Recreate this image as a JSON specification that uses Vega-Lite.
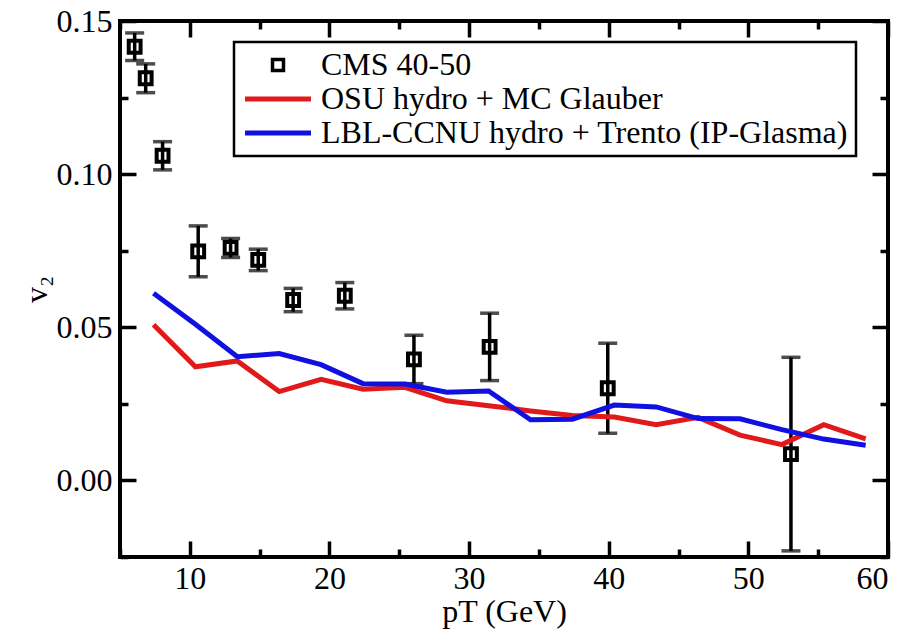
{
  "$schema": "https://vega.github.io/schema/vega-lite/v6.json",
  "width": 768,
  "height": 536,
  "autosize": {"type": "none"},
  "padding": {"left": 120, "top": 21, "right": 31, "bottom": 77},
  "background": "white",
  "config": {
    "view": {"stroke": "black", "strokeWidth": 4},
    "font": "Liberation Serif",
    "axis": {
      "grid": false,
      "domain": false,
      "ticks": true,
      "tickColor": "black",
      "tickWidth": 3.5,
      "labelFont": "Liberation Serif",
      "labelFontSize": 32,
      "labelColor": "black",
      "titleFont": "Liberation Serif",
      "titleFontSize": 32,
      "titleFontWeight": "normal",
      "titleColor": "black"
    }
  },
  "datasets": {
    "models": [
      {"series": "OSU hydro + MC Glauber", "pT": 7.4, "v2": 0.0508},
      {"series": "OSU hydro + MC Glauber", "pT": 10.4, "v2": 0.0371},
      {"series": "OSU hydro + MC Glauber", "pT": 13.4, "v2": 0.0390},
      {"series": "OSU hydro + MC Glauber", "pT": 16.4, "v2": 0.0290},
      {"series": "OSU hydro + MC Glauber", "pT": 19.4, "v2": 0.0330},
      {"series": "OSU hydro + MC Glauber", "pT": 22.4, "v2": 0.0298},
      {"series": "OSU hydro + MC Glauber", "pT": 25.4, "v2": 0.0304},
      {"series": "OSU hydro + MC Glauber", "pT": 28.4, "v2": 0.0260},
      {"series": "OSU hydro + MC Glauber", "pT": 31.4, "v2": 0.0244},
      {"series": "OSU hydro + MC Glauber", "pT": 34.4, "v2": 0.0227},
      {"series": "OSU hydro + MC Glauber", "pT": 37.4, "v2": 0.0212},
      {"series": "OSU hydro + MC Glauber", "pT": 40.4, "v2": 0.0207},
      {"series": "OSU hydro + MC Glauber", "pT": 43.4, "v2": 0.0182},
      {"series": "OSU hydro + MC Glauber", "pT": 46.4, "v2": 0.0206},
      {"series": "OSU hydro + MC Glauber", "pT": 49.4, "v2": 0.0148},
      {"series": "OSU hydro + MC Glauber", "pT": 52.4, "v2": 0.0117},
      {"series": "OSU hydro + MC Glauber", "pT": 55.4, "v2": 0.0182},
      {"series": "OSU hydro + MC Glauber", "pT": 58.4, "v2": 0.0136},
      {"series": "LBL-CCNU hydro + Trento (IP-Glasma)", "pT": 7.4, "v2": 0.0611},
      {"series": "LBL-CCNU hydro + Trento (IP-Glasma)", "pT": 10.4, "v2": 0.0510},
      {"series": "LBL-CCNU hydro + Trento (IP-Glasma)", "pT": 13.4, "v2": 0.0404},
      {"series": "LBL-CCNU hydro + Trento (IP-Glasma)", "pT": 16.4, "v2": 0.0414},
      {"series": "LBL-CCNU hydro + Trento (IP-Glasma)", "pT": 19.4, "v2": 0.0378},
      {"series": "LBL-CCNU hydro + Trento (IP-Glasma)", "pT": 22.4, "v2": 0.0316},
      {"series": "LBL-CCNU hydro + Trento (IP-Glasma)", "pT": 25.4, "v2": 0.0315},
      {"series": "LBL-CCNU hydro + Trento (IP-Glasma)", "pT": 28.4, "v2": 0.0288},
      {"series": "LBL-CCNU hydro + Trento (IP-Glasma)", "pT": 31.4, "v2": 0.0292},
      {"series": "LBL-CCNU hydro + Trento (IP-Glasma)", "pT": 34.4, "v2": 0.0198},
      {"series": "LBL-CCNU hydro + Trento (IP-Glasma)", "pT": 37.4, "v2": 0.0200},
      {"series": "LBL-CCNU hydro + Trento (IP-Glasma)", "pT": 40.4, "v2": 0.0246},
      {"series": "LBL-CCNU hydro + Trento (IP-Glasma)", "pT": 43.4, "v2": 0.0240},
      {"series": "LBL-CCNU hydro + Trento (IP-Glasma)", "pT": 46.4, "v2": 0.0202},
      {"series": "LBL-CCNU hydro + Trento (IP-Glasma)", "pT": 49.4, "v2": 0.0201},
      {"series": "LBL-CCNU hydro + Trento (IP-Glasma)", "pT": 52.4, "v2": 0.0166},
      {"series": "LBL-CCNU hydro + Trento (IP-Glasma)", "pT": 55.4, "v2": 0.0135},
      {"series": "LBL-CCNU hydro + Trento (IP-Glasma)", "pT": 58.4, "v2": 0.0115}
    ],
    "cms": [
      {"series": "CMS 40-50", "pT": 6.05, "v2": 0.1416, "lo": 0.1371, "hi": 0.1461},
      {"series": "CMS 40-50", "pT": 6.84, "v2": 0.1313, "lo": 0.1266, "hi": 0.1360},
      {"series": "CMS 40-50", "pT": 8.05, "v2": 0.1060, "lo": 0.1014, "hi": 0.1106},
      {"series": "CMS 40-50", "pT": 10.6, "v2": 0.0748, "lo": 0.0665, "hi": 0.0831},
      {"series": "CMS 40-50", "pT": 12.92, "v2": 0.0759, "lo": 0.0728, "hi": 0.0790},
      {"series": "CMS 40-50", "pT": 14.9, "v2": 0.0720, "lo": 0.0685, "hi": 0.0755},
      {"series": "CMS 40-50", "pT": 17.4, "v2": 0.0589, "lo": 0.0551, "hi": 0.0627},
      {"series": "CMS 40-50", "pT": 21.1, "v2": 0.0603, "lo": 0.0560, "hi": 0.0646},
      {"series": "CMS 40-50", "pT": 26.05, "v2": 0.0395, "lo": 0.0316, "hi": 0.0474},
      {"series": "CMS 40-50", "pT": 31.47, "v2": 0.0436, "lo": 0.0326, "hi": 0.0546},
      {"series": "CMS 40-50", "pT": 39.93, "v2": 0.0301, "lo": 0.0154, "hi": 0.0448},
      {"series": "CMS 40-50", "pT": 53.05, "v2": 0.0086, "lo": -0.0230, "hi": 0.0402}
    ]
  },
  "layer": [
    {
      "data": {"name": "cms"},
      "mark": {"type": "rule", "strokeWidth": 3.5, "color": "black"},
      "encoding": {
        "x": {"field": "pT", "type": "quantitative", "scale": {"domain": [5, 60], "nice": false, "zero": false},
          "axis": {"orient": "bottom", "values": [5, 15, 25, 35, 45, 55], "tickSize": -8, "labels": false, "title": null}},
        "y": {"field": "lo", "type": "quantitative", "scale": {"domain": [-0.025, 0.15], "nice": false, "zero": false},
          "axis": {"orient": "left", "values": [-0.025, 0.025, 0.075, 0.125], "tickSize": -8, "labels": false, "title": null}},
        "y2": {"field": "hi"}
      }
    },
    {
      "data": {"name": "cms"},
      "mark": {"type": "tick", "orient": "horizontal", "size": 19, "thickness": 3.5, "color": "black"},
      "encoding": {
        "x": {"field": "pT", "type": "quantitative",
          "axis": {"orient": "top", "values": [5, 15, 25, 35, 45, 55], "tickSize": -8, "labels": false, "title": null}},
        "y": {"field": "lo", "type": "quantitative",
          "axis": {"orient": "right", "values": [-0.025, 0.025, 0.075, 0.125], "tickSize": -8, "labels": false, "title": null}}
      }
    },
    {
      "data": {"name": "cms"},
      "mark": {"type": "tick", "orient": "horizontal", "size": 19, "thickness": 3.5, "color": "black"},
      "encoding": {
        "x": {"field": "pT", "type": "quantitative",
          "axis": {"orient": "top", "values": [10, 20, 30, 40, 50, 60], "tickSize": -16, "labels": false, "title": null}},
        "y": {"field": "hi", "type": "quantitative",
          "axis": {"orient": "right", "values": [0, 0.05, 0.1, 0.15], "tickSize": -16, "labels": false, "title": null}}
      }
    },
    {
      "data": {"name": "cms"},
      "mark": {"type": "point", "shape": "square", "filled": false, "size": 140, "strokeWidth": 4, "opacity": 1},
      "encoding": {
        "x": {
          "field": "pT", "type": "quantitative",
          "axis": {
            "orient": "bottom",
            "tickSize": -16,
            "values": [10, 20, 30, 40, 50, 60],
            "labelPadding": 22,
            "title": "pT (GeV)",
            "titlePadding": 2
          }
        },
        "y": {
          "field": "v2", "type": "quantitative",
          "axis": {
            "orient": "left",
            "tickSize": -16,
            "values": [0, 0.05, 0.1, 0.15],
            "format": ".2f",
            "labelPadding": 24,
            "title": "v₂",
            "titlePadding": 3
          }
        },
        "color": {"field": "series", "type": "nominal"}
      }
    },
    {
      "data": {"name": "models"},
      "mark": {"type": "line", "strokeWidth": 5},
      "encoding": {
        "x": {"field": "pT", "type": "quantitative", "axis": null},
        "y": {"field": "v2", "type": "quantitative", "axis": null},
        "color": {
          "field": "series", "type": "nominal",
          "scale": {
            "domain": ["CMS 40-50", "OSU hydro + MC Glauber", "LBL-CCNU hydro + Trento (IP-Glasma)"],
            "range": ["black", "#e01a1a", "#1010e0"]
          },
          "legend": {
            "orient": "none",
            "legendX": 114,
            "legendY": 21,
            "title": null,
            "labelFont": "Liberation Serif",
            "labelFontSize": 32,
            "labelColor": "black",
            "labelLimit": 800,
            "labelOffset": 27,
            "symbolOffset": 21,
            "strokeColor": "black",
            "fillColor": "white",
            "padding": 7,
            "rowPadding": 2,
            "symbolSize": 4356,
            "symbolType": "stroke",
            "symbolStrokeWidth": 5,
            "encode": {
              "legend": {"update": {"strokeWidth": {"value": 2.5}}},
              "symbols": {
                "update": {
                  "shape": {"signal": "datum.value === 'CMS 40-50' ? 'square' : 'stroke'"},
                  "size": {"signal": "datum.value === 'CMS 40-50' ? 120 : 4356"},
                  "strokeWidth": {"signal": "datum.value === 'CMS 40-50' ? 3.5 : 5"},
                  "fill": {"value": "transparent"}
                }
              }
            }
          }
        }
      }
    }
  ],
  "resolve": {"axis": {"x": "independent", "y": "independent"}}
}
